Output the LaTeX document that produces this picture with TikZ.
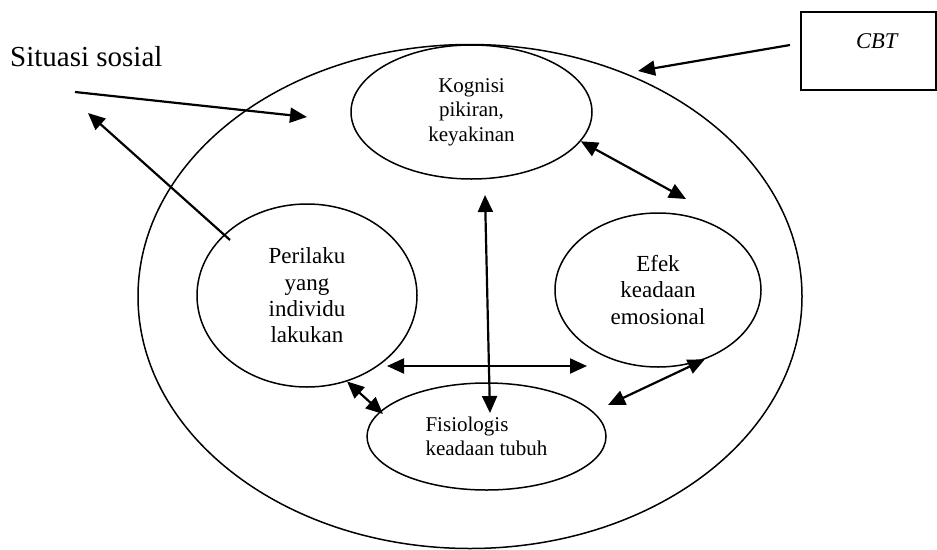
\documentclass[tikz,border=0pt]{standalone}
\usepackage{fontspec}
\setmainfont{Liberation Serif}
\usetikzlibrary{arrows.meta,shapes.geometric}
\begin{document}
\begin{tikzpicture}[x=1pt,y=-1pt,
  oval/.style={draw, ellipse, line width=1.5pt, inner sep=0pt, align=center},
  conn/.style={line width=2.2pt, -{Triangle[length=17pt,width=15pt]}},
  biconn/.style={line width=2.2pt, {Triangle[length=17pt,width=15pt]}-{Triangle[length=17pt,width=15pt]}},
  timesfont/.style={font=\fontsize{21}{24.5}\selectfont},
  palfont/.style={font=\fontsize{23}{26.3}\selectfont}]
\useasboundingbox (0,0) rectangle (937,549);
% ellipses
\node[oval, minimum width=664pt, minimum height=504pt] (outer) at (470,296.5) {};
\node[oval, timesfont, minimum width=241pt, minimum height=134pt] (kog) at (471.5,112) {Kognisi\\pikiran,\\keyakinan};
\node[oval, palfont, minimum width=220pt, minimum height=183pt] (per) at (307,295.5) {Perilaku\\yang\\individu\\lakukan};
\node[oval, palfont, minimum width=206pt, minimum height=154pt] (efek) at (658,290) {Efek\\keadaan\\emosional};
\node[oval, timesfont, align=left, minimum width=239pt, minimum height=107pt] (fis) at (486.5,436.5) {Fisiologis\\keadaan tubuh};
% labels and box
\node[anchor=base west, inner sep=0pt, font=\fontsize{29}{34}\selectfont] (sit) at (10,66) {Situasi sosial};
\node[draw, line width=1.8pt, minimum width=135pt, minimum height=78pt, inner sep=0pt] (cbt) at (868.5,51) {};
\node[anchor=base, inner sep=0pt, font=\fontsize{22.5}{26}\selectfont\itshape] (cbttext) at (876.7,48.3) {CBT};
% connector ends
\coordinate (sitA) at (75,92);
\coordinate (sitB) at (307,117);
\coordinate (perOut) at (230,240);
\coordinate (sitTip) at (88,113);
\coordinate (cbtFrom) at (790,45);
\coordinate (cbtTip) at (638,71);
\coordinate (kogEfek) at (686,199);
\coordinate (vTop) at (485,195);
\coordinate (vBot) at (490,413);
\coordinate (hL) at (387,366);
\coordinate (hR) at (587,366);
\coordinate (perFis) at (383,414);
\coordinate (efekFis) at (608,405);
% connectors
\draw[conn] (sitA) -- (sitB);
\draw[conn] (perOut) -- (sitTip);
\draw[conn] (cbtFrom) -- (cbtTip);
\draw[biconn] (kog.-15) -- (kogEfek);
\draw[biconn] (vTop) -- (vBot);
\draw[biconn] (hL) -- (hR);
\draw[biconn] (per.-65) -- (perFis);
\draw[biconn] (efek.-56) -- (efekFis);
\end{tikzpicture}
\end{document}
